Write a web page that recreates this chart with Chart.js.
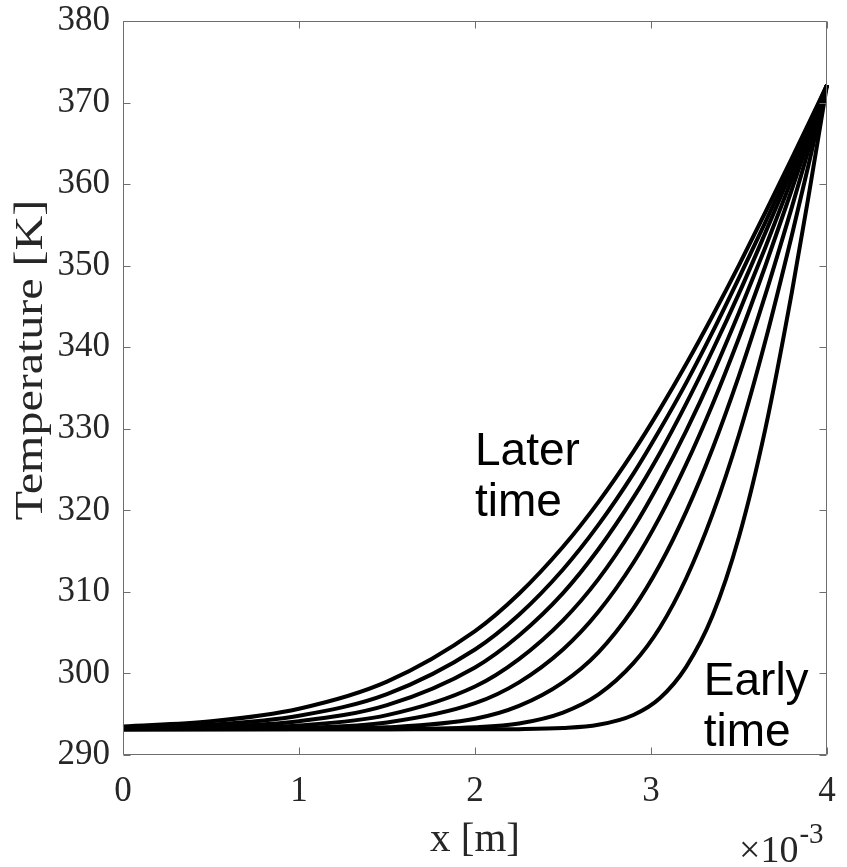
<!DOCTYPE html>
<html>
<head>
<meta charset="utf-8">
<script src="https://cdn.jsdelivr.net/npm/chart.js@4.4.1/dist/chart.umd.min.js"></script>
<style>
  html, body { margin: 0; padding: 0; background: #ffffff; }
  #wrap { width: 847px; height: 867px; }
</style>
</head>
<body>
<div id="wrap"><canvas id="c" width="847" height="867"></canvas></div>
<script>
// x positions (in units of 1e-3 m)
const xValues = [0, 0.5, 1, 1.5, 2, 2.25, 2.5, 2.7, 2.9, 3.05, 3.2, 3.35, 3.5, 3.65, 3.8, 3.9, 4];

// Temperature profiles [K], from earliest to latest time
const tempT1 = [293.15, 293.15, 293.15, 293.15, 293.15, 293.17, 293.30, 293.70, 294.91, 296.96, 300.81, 307.09, 316.76, 330.02, 346.69, 359.14, 372.15];
const tempT2 = [293.15, 293.15, 293.15, 293.17, 293.40, 293.87, 295.21, 297.40, 301.26, 305.60, 311.67, 319.56, 329.27, 340.79, 353.71, 362.82, 372.15];
const tempT3 = [293.15, 293.15, 293.18, 293.39, 294.45, 296.02, 298.91, 302.56, 307.98, 313.29, 319.85, 327.59, 336.52, 346.44, 357.15, 364.59, 372.15];
const tempT4 = [293.15, 293.18, 293.32, 293.99, 296.35, 298.91, 302.94, 307.53, 313.57, 319.17, 325.66, 333.02, 341.17, 349.99, 359.32, 365.70, 372.15];
const tempT5 = [293.17, 293.26, 293.63, 294.89, 298.40, 301.76, 306.51, 311.53, 317.86, 323.48, 329.75, 336.67, 344.27, 352.27, 360.63, 366.36, 372.15];
const tempT6 = [293.22, 293.45, 294.14, 296.12, 300.74, 304.66, 309.85, 315.19, 321.55, 327.01, 333.09, 339.63, 346.60, 354.05, 361.68, 366.89, 372.15];
const tempT7 = [293.32, 293.71, 294.82, 297.47, 302.94, 307.20, 312.75, 318.18, 324.50, 329.88, 335.63, 341.87, 348.50, 355.34, 362.47, 367.29, 372.15];
const tempT8 = [293.49, 294.13, 295.68, 299.00, 305.19, 309.77, 315.53, 320.98, 327.20, 332.38, 337.94, 343.86, 350.07, 356.55, 363.17, 367.64, 372.15];

const xTicks = [0, 1, 2, 3, 4];
const yTicks = [290, 300, 310, 320, 330, 340, 350, 360, 370, 380];

const xTitle = 'x [m]';
const yTitle = 'Temperature [K]';
const xExponentBase = '\u00d710';
const xExponent = '-3';

// annotations: text lines with anchor in data coordinates (x, T)
const laterLines = ['Later', 'time'];
const laterAnchor = [2.0, 325.5];
const earlyLines = ['Early', 'time'];
const earlyAnchor = [3.3, 297.4];

const allSeries = [tempT1, tempT2, tempT3, tempT4, tempT5, tempT6, tempT7, tempT8];

const datasets = allSeries.map((s, k) => ({
  label: 'profile ' + (k + 1),
  data: xValues.map((x, i) => ({ x: x, y: s[i] })),
  borderColor: '#000000',
  backgroundColor: '#000000',
  borderWidth: 4,
  pointRadius: 0,
  fill: false,
  cubicInterpolationMode: 'monotone',
  clip: false
}));

const AXIS_COLOR = '#6e6e6e';
const TEXT_COLOR = '#262626';
const SERIF = '"Liberation Serif", "Times New Roman", serif';
const SANS = '"Liberation Sans", Arial, sans-serif';

const framePlugin = {
  id: 'frame',
  afterDraw(chart) {
    const ctx = chart.ctx;
    const a = chart.chartArea;
    const xs = chart.scales.x, ys = chart.scales.y;
    ctx.save();
    ctx.strokeStyle = AXIS_COLOR;
    ctx.lineWidth = 1;
    const L = Math.round(a.left) + 0.5, R = Math.round(a.right) - 0.5;
    const T = Math.round(a.top) + 0.5, B = Math.round(a.bottom) - 0.5;
    ctx.beginPath();
    ctx.rect(L, T, R - L, B - T);
    ctx.stroke();
    const tl = 7;
    ctx.beginPath();
    xTicks.forEach(v => {
      const px = Math.round(xs.getPixelForValue(v)) + 0.5;
      ctx.moveTo(px, B); ctx.lineTo(px, B - tl);
      ctx.moveTo(px, T); ctx.lineTo(px, T + tl);
    });
    yTicks.forEach(v => {
      const py = Math.round(ys.getPixelForValue(v)) + 0.5;
      ctx.moveTo(L, py); ctx.lineTo(L + tl, py);
      ctx.moveTo(R, py); ctx.lineTo(R - tl, py);
    });
    ctx.stroke();

    // y axis title (rotated)
    ctx.fillStyle = TEXT_COLOR;
    ctx.font = '48px ' + SERIF;
    ctx.textAlign = 'center';
    ctx.textBaseline = 'middle';
    ctx.save();
    ctx.translate(31, 360);
    ctx.rotate(-Math.PI / 2);
    ctx.scale(1, 0.85);
    ctx.fillText(yTitle, 0, 0);
    ctx.restore();

    // exponent label
    ctx.textBaseline = 'alphabetic';
    ctx.textAlign = 'left';
    ctx.font = '38px ' + SERIF;
    const bx = 739, by = 862;
    ctx.fillText(xExponentBase, bx, by);
    const w = ctx.measureText(xExponentBase).width;
    ctx.font = '29px ' + SERIF;
    ctx.fillText(xExponent, bx + w + 1, by - 19);

    // annotations
    ctx.fillStyle = '#000000';
    ctx.font = '46px ' + SANS;
    const drawLines = (lines, anchor) => {
      const px = xs.getPixelForValue(anchor[0]);
      const py = ys.getPixelForValue(anchor[1]);
      lines.forEach((t, i) => ctx.fillText(t, px, py + i * 51));
    };
    drawLines(laterLines, laterAnchor);
    drawLines(earlyLines, earlyAnchor);
    ctx.restore();
  }
};

new Chart(document.getElementById('c'), {
  type: 'line',
  data: { datasets: datasets },
  options: {
    responsive: false,
    animation: false,
    devicePixelRatio: 1,
    layout: { padding: { left: 0, right: 20, top: 21, bottom: 0 } },
    plugins: { legend: { display: false }, tooltip: { enabled: false } },
    scales: {
      x: {
        type: 'linear',
        min: 0, max: 4,
        afterBuildTicks: s => { s.ticks = xTicks.map(v => ({ value: v })); },
        afterFit: s => { s.height = 112; s.paddingLeft = 0; s.paddingRight = 0; s.paddingTop = 0; s.paddingBottom = 0; },
        grid: { display: false, drawTicks: false },
        border: { display: false },
        ticks: { color: TEXT_COLOR, font: { family: SERIF, size: 35 }, padding: 16, maxRotation: 0 },
        title: { display: true, text: xTitle, color: TEXT_COLOR, font: { family: SERIF, size: 41, lineHeight: 1.2 }, padding: { top: 0, bottom: 2 } }
      },
      y: {
        type: 'linear',
        min: 290, max: 380,
        afterBuildTicks: s => { s.ticks = yTicks.map(v => ({ value: v })); },
        afterFit: s => { s.width = 123; s.paddingLeft = 0; s.paddingRight = 0; s.paddingTop = 0; s.paddingBottom = 0; },
        grid: { display: false, drawTicks: false },
        border: { display: false },
        ticks: { color: TEXT_COLOR, font: { family: SERIF, size: 35 }, padding: 13 },
        title: { display: false, text: yTitle }
      }
    }
  },
  plugins: [framePlugin]
});
</script>
</body>
</html>
